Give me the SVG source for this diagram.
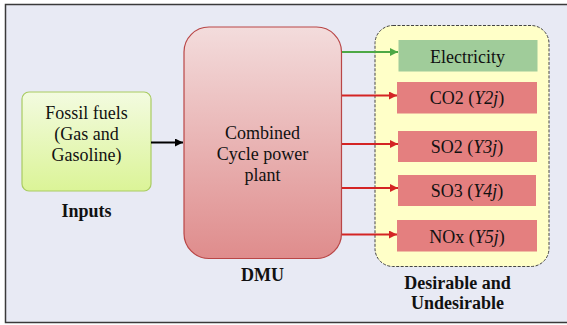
<svg xmlns="http://www.w3.org/2000/svg" width="567" height="325" viewBox="0 0 567 325">
  <style>
    text { font-family: "Liberation Serif", "Times New Roman", serif; font-size: 18px; fill: #111; text-anchor: middle; }
    .b { font-weight: bold; }
    .i { font-style: italic; }
    .out { fill: #E47F7F; }
    .conn { stroke-width: 2; fill: none; }
    .red { stroke: #D42424; }
  </style>
  <defs>
    <linearGradient id="gInput" x1="0" y1="0" x2="0" y2="1">
      <stop offset="0" stop-color="#F3FBE0"/>
      <stop offset="1" stop-color="#DBF497"/>
    </linearGradient>
    <linearGradient id="gDmu" x1="0" y1="0" x2="0" y2="1">
      <stop offset="0" stop-color="#F3DCDC"/>
      <stop offset="1" stop-color="#DF8C8C"/>
    </linearGradient>
    <marker id="ahBlack" markerWidth="10" markerHeight="10" refX="8" refY="4" orient="auto" markerUnits="userSpaceOnUse">
      <path d="M0,0 L8,4 L0,8 Z" fill="#000"/>
    </marker>
    <marker id="ahRed" markerWidth="10" markerHeight="10" refX="8" refY="4" orient="auto" markerUnits="userSpaceOnUse">
      <path d="M0,0 L8,4 L0,8 Z" fill="#D42424"/>
    </marker>
    <marker id="ahGreen" markerWidth="10" markerHeight="10" refX="8" refY="4" orient="auto" markerUnits="userSpaceOnUse">
      <path d="M0,0 L8,4 L0,8 Z" fill="#4DA845"/>
    </marker>
  </defs>

  <!-- frame -->
  <rect x="5.5" y="4.5" width="570" height="318" fill="#E8EAF4" stroke="#3A3A3A" stroke-width="1.5"/>

  <!-- input -->
  <g id="inputs">
    <rect x="22" y="92" width="129" height="99" rx="7" fill="url(#gInput)" stroke="#A9CB62" stroke-width="1.2"/>
    <text x="86.5" y="119">Fossil fuels</text>
    <text x="86.5" y="140">(Gas and</text>
    <text x="86.5" y="161">Gasoline)</text>
    <text class="b" x="86.5" y="217">Inputs</text>
  </g>

  <!-- decision making unit -->
  <g id="dmu">
    <rect x="184" y="27" width="157.5" height="231.5" rx="25" fill="url(#gDmu)" stroke="#B94646" stroke-width="1.2"/>
    <text x="262.5" y="139">Combined</text>
    <text x="262.5" y="160">Cycle power</text>
    <text x="262.5" y="181">plant</text>
    <text class="b" x="262.5" y="281">DMU</text>
  </g>

  <!-- outputs container -->
  <g id="outputs">
    <rect x="375" y="25.5" width="174" height="241" rx="18" fill="#FFFFC8" stroke="#444" stroke-width="1" stroke-dasharray="3,1.5"/>
    <text class="b" x="457.5" y="289">Desirable and</text>
    <text class="b" x="457.5" y="309">Undesirable</text>
  </g>

  <g id="electricity">
    <rect x="398.5" y="40" width="139" height="31.5" fill="#A0CC9A"/>
    <text x="467.5" y="62.5">Electricity</text>
  </g>
  <g id="co2">
    <rect class="out" x="397" y="82" width="140" height="31.5"/>
    <text x="467" y="104">CO2 (<tspan class="i">Y2j</tspan>)</text>
  </g>
  <g id="so2">
    <rect class="out" x="398" y="131" width="139" height="31"/>
    <text x="467" y="153">SO2 (<tspan class="i">Y3j</tspan>)</text>
  </g>
  <g id="so3">
    <rect class="out" x="398" y="175" width="138" height="31"/>
    <text x="467" y="197">SO3 (<tspan class="i">Y4j</tspan>)</text>
  </g>
  <g id="nox">
    <rect class="out" x="397" y="220" width="140" height="31.5"/>
    <text x="467" y="243">NOx (<tspan class="i">Y5j</tspan>)</text>
  </g>

  <!-- connectors -->
  <g id="connectors">
    <line class="conn" x1="151" y1="142.5" x2="183" y2="142.5" stroke="#000" marker-end="url(#ahBlack)"/>
    <line class="conn" x1="342" y1="52" x2="398" y2="52" stroke="#4DA845" marker-end="url(#ahGreen)"/>
    <line class="conn red" x1="342" y1="95.5" x2="397" y2="95.5" marker-end="url(#ahRed)"/>
    <line class="conn red" x1="342" y1="144" x2="398" y2="144" marker-end="url(#ahRed)"/>
    <line class="conn red" x1="342" y1="188" x2="398" y2="188" marker-end="url(#ahRed)"/>
    <line class="conn red" x1="342" y1="234.5" x2="397" y2="234.5" marker-end="url(#ahRed)"/>
  </g>
</svg>
